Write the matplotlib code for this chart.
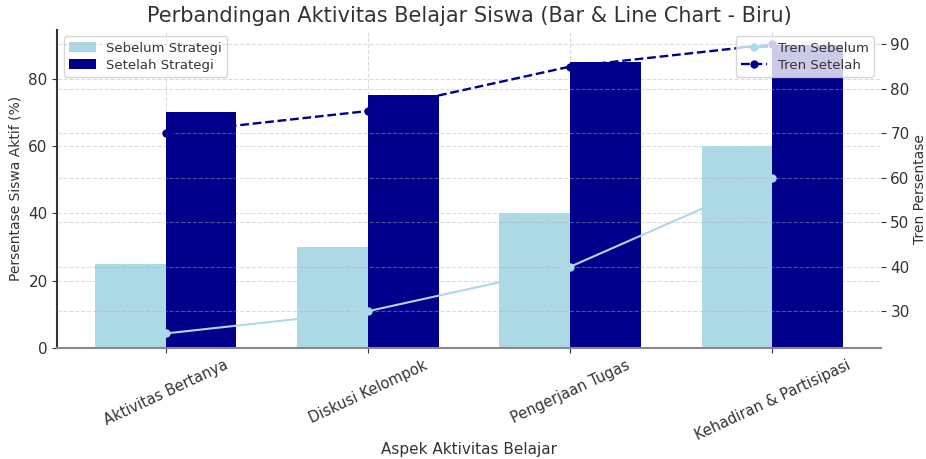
import numpy as np
import matplotlib
matplotlib.use('Agg')
import matplotlib.pyplot as plt

# data
categories = ['Aktivitas Bertanya', 'Diskusi Kelompok', 'Pengerjaan Tugas', 'Kehadiran & Partisipasi']
sebelum = [25, 30, 40, 60]
setelah = [70, 75, 85, 90]

plt.rcParams['font.family'] = ['DejaVu Sans']
plt.rcParams['text.color'] = '#333333'
plt.rcParams['axes.labelcolor'] = '#333333'
plt.rcParams['xtick.color'] = '#333333'
plt.rcParams['ytick.color'] = '#333333'

x = np.arange(len(categories))
width = 0.35

fig, ax = plt.subplots(figsize=(9.26, 4.59), dpi=100)
fig.subplots_adjust(left=0.062, right=0.951, bottom=0.242, top=0.935)

ax.bar(x - width / 2, sebelum, width, label='Sebelum Strategi', color='lightblue')
ax.bar(x + width / 2, setelah, width, label='Setelah Strategi', color='darkblue')
ax.set_xticks(x)
ax.set_xticklabels(categories, rotation=25, ha='center', fontsize=10.5)
ax.set_xlabel('Aspek Aktivitas Belajar', fontsize=11)
ax.xaxis.set_label_coords(0.5, -0.295)
ax.set_ylabel('Persentase Siswa Aktif (%)', fontsize=10)
ax.tick_params(axis='y', labelsize=11)
ax.grid(True, linestyle='--', alpha=0.45)
ax.set_axisbelow(True)
ax.legend(loc='upper left', fontsize=9.5, labelspacing=0.3)

for s in ['top', 'right']:
    ax.spines[s].set_visible(False)
ax.spines['left'].set_color('#333333')
ax.spines['left'].set_linewidth(1.5)
ax.spines['bottom'].set_color('#888888')
ax.spines['bottom'].set_linewidth(1.5)

ax2 = ax.twinx()
ax2.plot(x, sebelum, marker='o', linestyle='-', color='lightblue', linewidth=1.5, markersize=5, label='Tren Sebelum')
ax2.plot(x, setelah, marker='o', linestyle='--', color='darkblue', linewidth=1.7, markersize=5, label='Tren Setelah')
ax2.set_ylabel('Tren Persentase', fontsize=10, labelpad=2)
ax2.tick_params(axis='y', labelsize=11)
ax2.grid(True, linestyle='--', alpha=0.45)
for s in ['top', 'right', 'left', 'bottom']:
    ax2.spines[s].set_visible(False)
ax2.legend(loc='upper right', fontsize=9.5, labelspacing=0.3)

ax.set_title('Perbandingan Aktivitas Belajar Siswa (Bar & Line Chart - Biru)', fontsize=15)

fig.savefig('out.png', dpi=100)
